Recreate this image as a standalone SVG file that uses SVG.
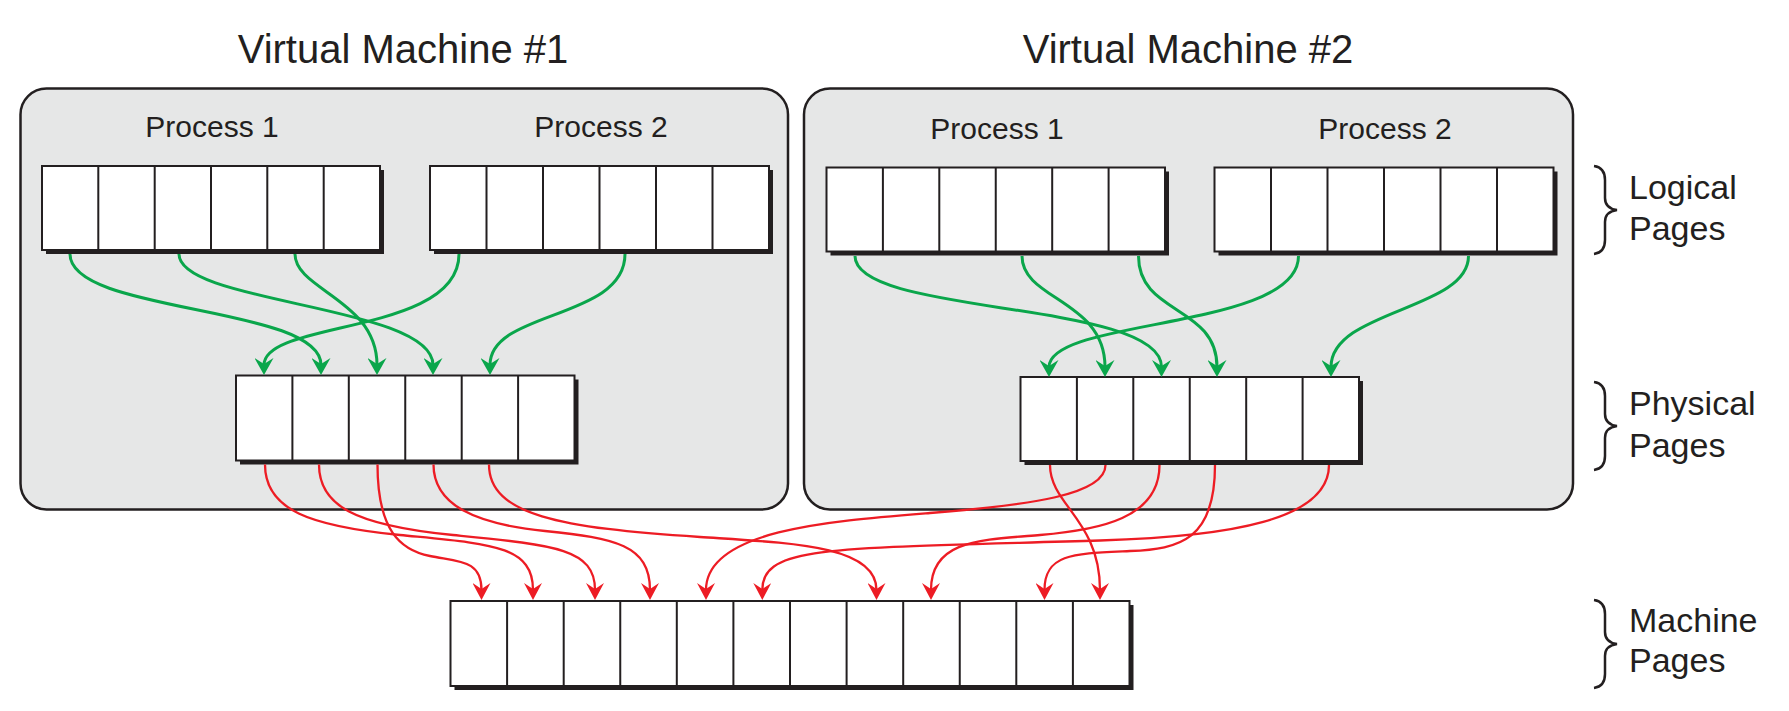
<svg xmlns="http://www.w3.org/2000/svg" width="1789" height="711" viewBox="0 0 1789 711">
<defs>
<style>
.vm{fill:#e6e7e7;stroke:#231f20;stroke-width:2.5}
.shadow{fill:#231f20}
.cells{fill:#fff;stroke:#231f20;stroke-width:2}
.div{fill:none;stroke:#231f20;stroke-width:2}
.t{font-family:"Liberation Sans",Arial,Helvetica,sans-serif;fill:#231f20}
.title{font-size:40px;text-anchor:middle}
.proc{font-size:30px;text-anchor:middle}
.lbl{font-size:34px}
.brace{fill:none;stroke:#231f20;stroke-width:2.5}
.g{fill:none;stroke:#0aa64b;stroke-width:3;marker-end:url(#ag)}
.r{fill:none;stroke:#ed1c24;stroke-width:2.3;marker-end:url(#ar)}
</style>
<marker id="ag" viewBox="0 0 17 19" markerWidth="17" markerHeight="19" refX="7" refY="9.5" orient="auto" markerUnits="userSpaceOnUse"><path d="M0,0 L17,9.5 L0,19 L6,9.5 Z" fill="#0aa64b"/></marker>
<marker id="ar" viewBox="0 0 17 18" markerWidth="17" markerHeight="18" refX="7" refY="9" orient="auto" markerUnits="userSpaceOnUse"><path d="M0,0 L17,9 L0,18 L6,9 Z" fill="#ed1c24"/></marker>
</defs>
<rect width="1789" height="711" fill="#fff"/>

<g id="vm1">
<rect class="vm" x="20.5" y="88.5" width="767.5" height="421" rx="26"/>
<text class="t title" x="403" y="63">Virtual Machine #1</text>
<text class="t proc" x="212" y="137">Process 1</text>
<text class="t proc" x="601" y="137">Process 2</text>
</g>
<g id="vm2">
<rect class="vm" x="804" y="88.5" width="769" height="421" rx="26"/>
<text class="t title" x="1188" y="63">Virtual Machine #2</text>
<text class="t proc" x="997" y="139">Process 1</text>
<text class="t proc" x="1385" y="139">Process 2</text>
</g>

<g id="vm1-p1-logical">
<rect class="shadow" x="46" y="170" width="338" height="84"/>
<rect class="cells" x="42" y="166" width="338" height="84"/>
<path class="div" d="M98.3,166V250M154.7,166V250M211,166V250M267.3,166V250M323.7,166V250"/>
</g>
<g id="vm1-p2-logical">
<rect class="shadow" x="434" y="170" width="339" height="84"/>
<rect class="cells" x="430" y="166" width="339" height="84"/>
<path class="div" d="M486.5,166V250M543,166V250M599.5,166V250M656,166V250M712.5,166V250"/>
</g>
<g id="vm1-physical">
<rect class="shadow" x="240" y="379.5" width="338.5" height="85"/>
<rect class="cells" x="236" y="375.5" width="338.5" height="85"/>
<path class="div" d="M292.4,375.5V460.5M348.8,375.5V460.5M405.25,375.5V460.5M461.7,375.5V460.5M518.1,375.5V460.5"/>
</g>
<g id="vm2-p1-logical">
<rect class="shadow" x="830.5" y="171.5" width="338.5" height="84"/>
<rect class="cells" x="826.5" y="167.5" width="338.5" height="84"/>
<path class="div" d="M882.9,167.5V251.5M939.3,167.5V251.5M995.75,167.5V251.5M1052.2,167.5V251.5M1108.6,167.5V251.5"/>
</g>
<g id="vm2-p2-logical">
<rect class="shadow" x="1218.5" y="171.5" width="339" height="84"/>
<rect class="cells" x="1214.5" y="167.5" width="339" height="84"/>
<path class="div" d="M1271,167.5V251.5M1327.5,167.5V251.5M1384,167.5V251.5M1440.5,167.5V251.5M1497,167.5V251.5"/>
</g>
<g id="vm2-physical">
<rect class="shadow" x="1024.5" y="381" width="338.5" height="84"/>
<rect class="cells" x="1020.5" y="377" width="338.5" height="84"/>
<path class="div" d="M1076.9,377V461M1133.3,377V461M1189.75,377V461M1246.2,377V461M1302.6,377V461"/>
</g>
<g id="machine-pages">
<rect class="shadow" x="454.5" y="605" width="679" height="85"/>
<rect class="cells" x="450.5" y="601" width="679" height="85"/>
<path class="div" d="M507.1,601V686M563.7,601V686M620.25,601V686M676.8,601V686M733.4,601V686M790,601V686M846.6,601V686M903.2,601V686M959.75,601V686M1016.3,601V686M1072.9,601V686"/>
</g>

<g id="label-logical">
<path class="brace" d="M1594,166 C1601,167 1605,172 1605,180 L1605,198 C1605,205 1609,209 1617,210 C1609,211 1605,215 1605,222 L1605,240 C1605,248 1601,253 1594,254"/>
<text class="t lbl" x="1629" y="199">Logical</text>
<text class="t lbl" x="1629" y="240">Pages</text>
</g>
<g id="label-physical">
<path class="brace" d="M1594,382 C1601,383 1605,388 1605,396 L1605,414 C1605,421 1609,425 1617,426 C1609,427 1605,431 1605,438 L1605,456 C1605,464 1601,469 1594,470"/>
<text class="t lbl" x="1629" y="415">Physical</text>
<text class="t lbl" x="1629" y="457">Pages</text>
</g>
<g id="label-machine">
<path class="brace" d="M1594,600 C1601,601 1605,606 1605,614 L1605,632 C1605,639 1609,643 1617,644 C1609,645 1605,649 1605,656 L1605,674 C1605,682 1601,687 1594,688"/>
<text class="t lbl" x="1629" y="632">Machine</text>
<text class="t lbl" x="1629" y="672">Pages</text>
</g>

<g id="connectors">
<path class="g" d="M70,254 C70,314 321,305 321,365"/>
<path class="g" d="M179,254 C179,304 433,305 433,365"/>
<path class="g" d="M295,254 C295,290 377,300 377,365"/>
<path class="g" d="M459,254 C459,335 264,320 264,365"/>
<path class="g" d="M625,254 C625,320 490,310 490,365"/>

<path class="g" d="M855,256 C855,316 1161.5,300 1161.5,367"/>
<path class="g" d="M1022,256 C1022,300 1105,300 1105,367"/>
<path class="g" d="M1138.5,256 C1138.5,315 1217,305 1217,367"/>
<path class="g" d="M1298.5,256 C1298.5,330 1049,318 1049,367"/>
<path class="g" d="M1468.5,256 C1468.5,310 1331,310 1331,367"/>

<path class="r" d="M265,464.5 C265,510 310,526 400,535 C490,544 533,545 533,590"/>
<path class="r" d="M319,464.5 C319,505 353,525 453,535 C553,545 595,548 595,590"/>
<path class="r" d="M377.5,464.5 C377.5,530 400,550 430,556 C460,562 481.5,560 481.5,590"/>
<path class="r" d="M433.5,464.5 C433.5,505 475,524 545,531 C615,538 650,545 650,590"/>
<path class="r" d="M489,464.5 C489,515 560,528 700,537 C790,543 876.5,545 876.5,590"/>

<path class="r" d="M1050,465 C1050,505 1100,520 1100,590"/>
<path class="r" d="M1105.5,465 C1105.5,495 1030,505 930,513 C830,521 706,530 706,590"/>
<path class="r" d="M1159.5,465 C1159.5,518 1100,530 1040,535 C980,540 931,540 931,590"/>
<path class="r" d="M1215,465 C1215,540 1180,549 1130,551 C1075,553.5 1044.5,553 1044.5,590"/>
<path class="r" d="M1329,465 C1329,520 1230,536.6 1100,540.5 C830,548.6 762.3,545 762.3,590"/>
</g>
</svg>
